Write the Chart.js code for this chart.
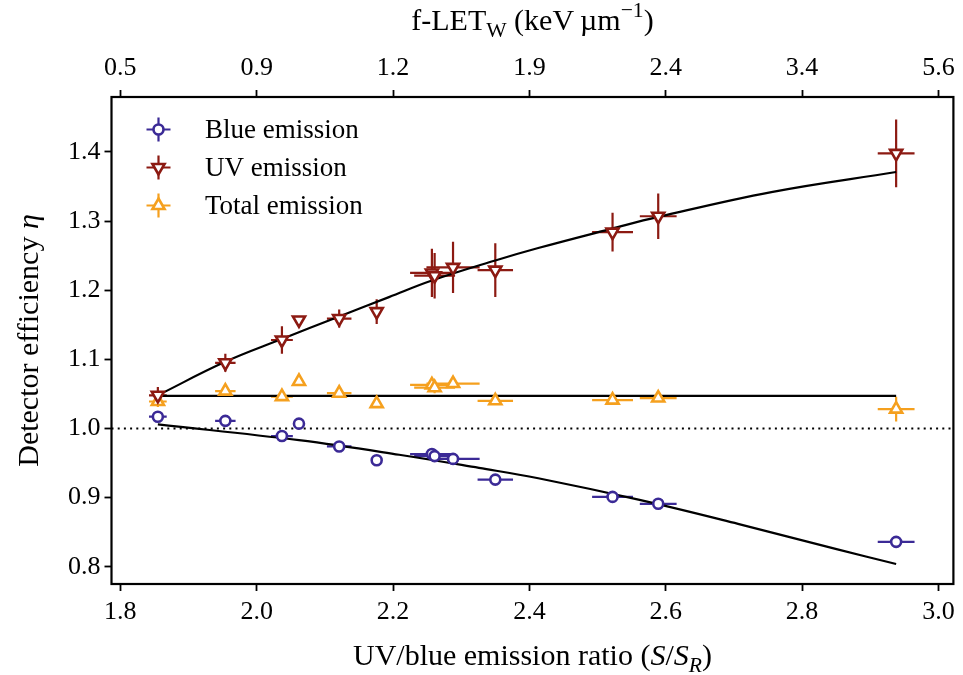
<!DOCTYPE html>
<html>
<head>
<meta charset="utf-8">
<script src="https://cdn.jsdelivr.net/npm/chart.js@4.4.1/dist/chart.umd.min.js"></script>
<style>
  html, body { margin: 0; padding: 0; background: #ffffff; }
  #wrap { width: 963px; height: 675px; position: relative; }
</style>
</head>
<body>
<div id="wrap"><canvas id="effChart"></canvas></div>
<script>
// valori
const ratioX    = [1.855, 1.954, 2.037, 2.062, 2.121, 2.176, 2.257, 2.261, 2.288, 2.350, 2.522, 2.589, 2.938];
const ratioXErr = [0.013, 0.015, 0.016, 0.004, 0.018, 0.004, 0.032, 0.030, 0.039, 0.026, 0.030, 0.027, 0.027];

const blueEff = [1.017, 1.011, 0.989, 1.007, 0.974, 0.954, 0.963, 0.960, 0.956, 0.926, 0.901, 0.891, 0.836];
const blueErr = [0.006, 0.005, 0.004, 0.003, 0.004, 0.003, 0.008, 0.006, 0.004, 0.003, 0.004, 0.003, 0.008];

const uvEff = [1.048, 1.095, 1.128, 1.157, 1.159, 1.169, 1.225, 1.221, 1.233, 1.229, 1.284, 1.307, 1.398];
const uvErr = [0.012, 0.013, 0.020, 0.005, 0.013, 0.018, 0.035, 0.033, 0.037, 0.039, 0.028, 0.033, 0.049];

const totalEff = [1.039, 1.054, 1.046, 1.068, 1.051, 1.036, 1.063, 1.059, 1.065, 1.040, 1.041, 1.044, 1.028];
const totalErr = [0.008, 0.005, 0.005, 0.004, 0.005, 0.006, 0.008, 0.008, 0.006, 0.006, 0.005, 0.005, 0.018];

// curve di fit
const uvFitX = [1.855, 1.953, 2.036, 2.121, 2.194, 2.257, 2.350, 2.413, 2.521, 2.589, 2.755, 2.938];
const uvFitY = [1.048, 1.096, 1.129, 1.162, 1.190, 1.214, 1.243, 1.261, 1.289, 1.306, 1.342, 1.371];
const blueFitX = [1.855, 2.062, 2.209, 2.326, 2.413, 2.560, 2.706, 2.852, 2.938];
const blueFitY = [1.006, 0.983, 0.962, 0.943, 0.928, 0.897, 0.862, 0.825, 0.804];
const totalFitX = [1.855, 2.938];
const totalFitY = [1.047, 1.047];
const referenceEff = 1.0;

// assi
const xTicks = [1.8, 2.0, 2.2, 2.4, 2.6, 2.8, 3.0];
const letTickPos = [1.8, 2.0, 2.2, 2.4, 2.6, 2.8, 3.0];
const letTickLabels = ['0.5', '0.9', '1.2', '1.9', '2.4', '3.4', '5.6'];
const yTicks = [0.8, 0.9, 1.0, 1.1, 1.2, 1.3, 1.4];
const xRange = [1.787, 3.022];
const yRange = [0.775, 1.4795];

const FONT = "'Liberation Serif', 'Times New Roman', serif";
const BLUE = '#3b2a96';
const RED = '#8c1a12';
const ORANGE = '#f5a01e';

function toPoints(xs, ys) {
    return xs.map((x, i) => ({ x: x, y: ys[i] }));
}

function markerPath(ctx, style, x, y, r, rotation) {
    ctx.beginPath();
    if (style === 'circle') {
        ctx.arc(x, y, r, 0, Math.PI * 2);
    } else {
        let rad = rotation * Math.PI / 180;
        for (let k = 0; k < 3; k++) {
            const px = x + Math.sin(rad) * r;
            const py = y - Math.cos(rad) * r;
            if (k === 0) ctx.moveTo(px, py); else ctx.lineTo(px, py);
            rad += 2 * Math.PI / 3;
        }
        ctx.closePath();
    }
}

// barre d'errore
const errorBarPlugin = {
    id: 'errorBars',
    beforeDatasetsDraw(chart) {
        const ctx = chart.ctx;
        const xs = chart.scales.x, ys = chart.scales.y;
        ctx.save();
        chart.data.datasets.forEach(ds => {
            if (!ds.yErr) return;
            ctx.strokeStyle = ds.borderColor;
            ctx.lineWidth = 2.2;
            ds.data.forEach((p, j) => {
                const cx = xs.getPixelForValue(p.x), cy = ys.getPixelForValue(p.y);
                const x0 = xs.getPixelForValue(p.x - ds.xErr[j]), x1 = xs.getPixelForValue(p.x + ds.xErr[j]);
                const y0 = ys.getPixelForValue(p.y - ds.yErr[j]), y1 = ys.getPixelForValue(p.y + ds.yErr[j]);
                ctx.beginPath();
                ctx.moveTo(x0, cy); ctx.lineTo(x1, cy);
                ctx.moveTo(cx, y0); ctx.lineTo(cx, y1);
                ctx.stroke();
            });
        });
        ctx.restore();
    }
};

// testo con corsivo, pedici e apici
function drawRich(ctx, parts, size) {
    let w = 0;
    parts.forEach(p => {
        const s = p.sub || p.sup ? size * 0.72 : size;
        ctx.font = (p.italic ? 'italic ' : '') + s + 'px ' + FONT;
        p.w = ctx.measureText(p.t).width;
        w += p.w;
    });
    let x = -w / 2;
    parts.forEach(p => {
        const s = p.sub || p.sup ? size * 0.72 : size;
        ctx.font = (p.italic ? 'italic ' : '') + s + 'px ' + FONT;
        let dy = 0;
        if (p.sub) dy = size * 0.22;
        if (p.sup) dy = -size * 0.42;
        ctx.fillText(p.t, x, dy);
        x += p.w;
    });
}

const decorPlugin = {
    id: 'decor',
    beforeDatasetsDraw(chart) {
        const ctx = chart.ctx, a = chart.chartArea;
        const y = chart.scales.y.getPixelForValue(referenceEff);
        ctx.save();
        ctx.strokeStyle = '#000';
        ctx.lineWidth = 2;
        ctx.setLineDash([2, 4.2]);
        ctx.beginPath();
        ctx.moveTo(a.left, y);
        ctx.lineTo(a.right, y);
        ctx.stroke();
        ctx.restore();
    },
    afterDraw(chart) {
        const ctx = chart.ctx, a = chart.chartArea;
        ctx.save();
        ctx.strokeStyle = '#000';
        ctx.lineWidth = 2.2;
        ctx.strokeRect(a.left, a.top, a.right - a.left, a.bottom - a.top);

        // legenda
        const items = chart.data.datasets.filter(d => d.yErr);
        items.forEach((d, k) => {
            const lx = 158.5, ly = 129.5 + k * 38;
            ctx.strokeStyle = d.borderColor;
            ctx.lineWidth = 2.2;
            ctx.beginPath();
            ctx.moveTo(lx - 12, ly); ctx.lineTo(lx + 12, ly);
            ctx.moveTo(lx, ly - 12); ctx.lineTo(lx, ly + 12);
            ctx.stroke();
            ctx.lineWidth = d.borderWidth;
            markerPath(ctx, d.pointStyle, lx, ly, d.pointRadius, d.pointRotation || 0);
            ctx.fillStyle = '#fff';
            ctx.fill();
            ctx.stroke();
            ctx.fillStyle = '#000';
            ctx.font = '27px ' + FONT;
            ctx.textBaseline = 'middle';
            ctx.fillText(d.label, 205, ly + 1);
        });

        ctx.fillStyle = '#000';
        ctx.textBaseline = 'alphabetic';
        const cx = (a.left + a.right) / 2;
        ctx.save();
        ctx.translate(cx, 665);
        drawRich(ctx, [
            { t: 'UV/blue emission ratio (' },
            { t: 'S', italic: true },
            { t: '/' },
            { t: 'S', italic: true },
            { t: 'R', italic: true, sub: true },
            { t: ')' }
        ], 30);
        ctx.restore();

        ctx.save();
        ctx.translate(cx, 30);
        drawRich(ctx, [
            { t: 'f-LET' },
            { t: 'W', sub: true },
            { t: ' (keV\u2009\u00b5m' },
            { t: '\u22121', sup: true },
            { t: ')' }
        ], 30);
        ctx.restore();

        ctx.save();
        ctx.translate(38, (a.top + a.bottom) / 2);
        ctx.rotate(-Math.PI / 2);
        drawRich(ctx, [
            { t: 'Detector efficiency ' },
            { t: '\u03b7', italic: true }
        ], 30);
        ctx.restore();
        ctx.restore();
    }
};

function tickGrid() {
    return {
        drawOnChartArea: false,
        drawTicks: true,
        tickLength: 7,
        tickWidth: 1.8,
        tickColor: '#000'
    };
}

const ctx = document.getElementById('effChart').getContext('2d');

new Chart(ctx, {
    type: 'scatter',
    data: {
        datasets: [
            {
                label: 'Blue emission',
                data: toPoints(ratioX, blueEff),
                xErr: ratioXErr, yErr: blueErr,
                borderColor: BLUE, backgroundColor: '#fff',
                pointStyle: 'circle', pointRadius: 5, borderWidth: 2.6, order: 1
            },
            {
                label: 'UV emission',
                data: toPoints(ratioX, uvEff),
                xErr: ratioXErr, yErr: uvErr,
                borderColor: RED, backgroundColor: '#fff',
                pointStyle: 'triangle', pointRotation: 180,
                pointRadius: 7, borderWidth: 2.6, order: 1
            },
            {
                label: 'Total emission',
                data: toPoints(ratioX, totalEff),
                xErr: ratioXErr, yErr: totalErr,
                borderColor: ORANGE, backgroundColor: '#fff',
                pointStyle: 'triangle', pointRadius: 7, borderWidth: 2.6, order: 1
            },
            {
                label: 'fit UV', type: 'line',
                data: toPoints(uvFitX, uvFitY),
                borderColor: '#000', borderWidth: 2.2, pointRadius: 0,
                tension: 0.4, fill: false, order: 2
            },
            {
                label: 'fit blue', type: 'line',
                data: toPoints(blueFitX, blueFitY),
                borderColor: '#000', borderWidth: 2.2, pointRadius: 0,
                tension: 0.4, fill: false, order: 2
            },
            {
                label: 'fit total', type: 'line',
                data: toPoints(totalFitX, totalFitY),
                borderColor: '#000', borderWidth: 2.2, pointRadius: 0,
                fill: false, order: 2
            }
        ]
    },
    options: {
        responsive: true,
        maintainAspectRatio: false,
        animation: false,
        layout: { padding: { left: 0, right: 7, top: 0, bottom: 0 } },
        plugins: {
            legend: { display: false },
            tooltip: { enabled: false }
        },
        scales: {
            x: {
                type: 'linear', position: 'bottom',
                min: xRange[0], max: xRange[1],
                afterBuildTicks: s => { s.ticks = xTicks.map(v => ({ value: v })); },
                afterFit: s => { s.height = 91; },
                grid: tickGrid(),
                border: { display: false },
                ticks: {
                    color: '#000', padding: 6,
                    font: { family: FONT, size: 26 },
                    callback: v => v.toFixed(1)
                }
            },
            x2: {
                type: 'linear', position: 'top',
                min: xRange[0], max: xRange[1],
                afterBuildTicks: s => { s.ticks = letTickPos.map(v => ({ value: v })); },
                afterFit: s => { s.height = 97; },
                grid: tickGrid(),
                border: { display: false },
                ticks: {
                    color: '#000', padding: 6,
                    font: { family: FONT, size: 26 },
                    callback: (v, i) => letTickLabels[i]
                }
            },
            y: {
                type: 'linear', position: 'left',
                min: yRange[0], max: yRange[1],
                afterBuildTicks: s => { s.ticks = yTicks.map(v => ({ value: v })); },
                afterFit: s => { s.width = 111.5; },
                grid: tickGrid(),
                border: { display: false },
                ticks: {
                    color: '#000', padding: 4,
                    font: { family: FONT, size: 26 },
                    callback: v => v.toFixed(1)
                }
            }
        }
    },
    plugins: [errorBarPlugin, decorPlugin]
});
</script>
</body>
</html>
